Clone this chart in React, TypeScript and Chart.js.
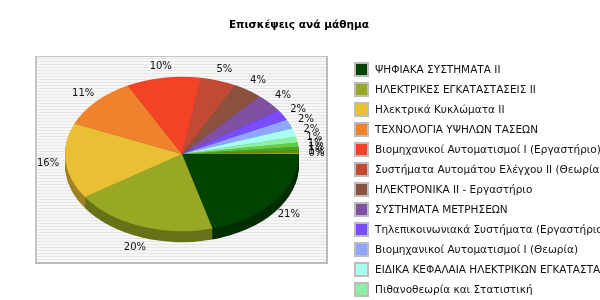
import React, { useEffect, useRef } from "react";
import { Chart, registerables } from "chart.js";

Chart.register(...registerables);

const chartTitle = "Επισκέψεις ανά μάθημα";

const courses = [
  "ΨΗΦΙΑΚΑ ΣΥΣΤΗΜΑΤΑ II",
  "ΗΛΕΚΤΡΙΚΕΣ ΕΓΚΑΤΑΣΤΑΣΕΙΣ II",
  "Ηλεκτρικά Κυκλώματα II",
  "ΤΕΧΝΟΛΟΓΙΑ ΥΨΗΛΩΝ ΤΑΣΕΩΝ",
  "Βιομηχανικοί Αυτοματισμοί I (Εργαστήριο)",
  "Συστήματα Αυτομάτου Ελέγχου II (Θεωρία)",
  "ΗΛΕΚΤΡΟΝΙΚΑ II - Εργαστήριο",
  "ΣΥΣΤΗΜΑΤΑ ΜΕΤΡΗΣΕΩΝ",
  "Τηλεπικοινωνιακά Συστήματα (Εργαστήριο)",
  "Βιομηχανικοί Αυτοματισμοί I (Θεωρία)",
  "ΕΙΔΙΚΑ ΚΕΦΑΛΑΙΑ ΗΛΕΚΤΡΙΚΩΝ ΕΓΚΑΤΑΣΤΑΣΕΩΝ",
  "Πιθανοθεωρία και Στατιστική",
  "Ηλεκτρικές Μηχανές II",
  "ΗΛΕΚΤΡΟΝΙΚΑ II - Θεωρία",
  "Μικροϋπολογιστές",
  "Ψηφιακή Επεξεργασία Σήματος",
];

const visits = [210, 200, 160, 110, 104, 50, 40, 40, 22, 20, 18, 12, 9, 7, 6, 2];

const sliceColors = [
  "#004400",
  "#99a824",
  "#e9bf34",
  "#f0822d",
  "#f44226",
  "#c04a34",
  "#8a523e",
  "#8051a3",
  "#7a4cff",
  "#8fa6ff",
  "#a7fff0",
  "#8cf0a0",
  "#66cc44",
  "#44aa22",
  "#6a8a10",
  "#aaaa22",
];

const TILT = 0.66;
const DEPTH = 11;

function darken(hex: string, f = 0.68) {
  const n = parseInt(hex.slice(1), 16);
  const r = Math.round(((n >> 16) & 255) * f);
  const g = Math.round(((n >> 8) & 255) * f);
  const b = Math.round((n & 255) * f);
  return `rgb(${r},${g},${b})`;
}

const pie3d = {
  id: "pie3d",
  beforeDraw(chart: any) {
    const ctx = chart.ctx;
    ctx.save();
    ctx.fillStyle = "#ffffff";
    ctx.fillRect(0, 0, chart.width, chart.height);
    const x0 = 35, y0 = 56, x1 = 328, y1 = 264;
    ctx.fillStyle = "#f7f7f7";
    ctx.fillRect(x0, y0, x1 - x0, y1 - y0);
    ctx.fillStyle = "#e6e6e6";
    for (let y = y0 + 2; y < y1; y += 3) {
      ctx.fillRect(x0, y, x1 - x0, 1);
    }
    ctx.fillStyle = "#c4c4c4";
    ctx.fillRect(x0, y0, x1 - x0, 1);
    ctx.fillRect(x0, y0, 2, y1 - y0);
    ctx.fillStyle = "#bcbcbc";
    ctx.fillRect(x1 - 2, y0, 2, y1 - y0);
    ctx.fillRect(x0, y1 - 2, x1 - x0, 2);
    ctx.restore();
  },
  beforeDatasetsDraw(chart: any) {
    const ctx = chart.ctx;
    const meta = chart.getDatasetMeta(0);
    const first = meta.data[0];
    const cx = first.x;
    const cy = first.y;
    ctx.save();
    ctx.translate(cx, cy);
    ctx.scale(1, TILT);
    ctx.translate(-cx, -cy);
    for (let d = DEPTH; d >= 1; d--) {
      meta.data.forEach((a: any, i: number) => {
        const p = a.getProps(["startAngle", "endAngle", "outerRadius"], true);
        const oy = cy + d / TILT;
        ctx.beginPath();
        ctx.moveTo(cx, oy);
        ctx.arc(cx, oy, p.outerRadius, p.startAngle, p.endAngle);
        ctx.closePath();
        ctx.fillStyle = darken(sliceColors[i]);
        ctx.fill();
      });
    }
  },
  afterDatasetsDraw(chart: any) {
    const ctx = chart.ctx;
    ctx.restore();
    const meta = chart.getDatasetMeta(0);
    const data: number[] = chart.data.datasets[0].data;
    const total = data.reduce((s, v) => s + v, 0);
    ctx.save();
    ctx.font = "10px 'DejaVu Sans'";
    ctx.fillStyle = "#111";
    ctx.textAlign = "center";
    ctx.textBaseline = "middle";
    meta.data.forEach((a: any, i: number) => {
      const p = a.getProps(["x", "y", "startAngle", "endAngle", "outerRadius"], true);
      const mid = (p.startAngle + p.endAngle) / 2;
      const R = p.outerRadius * 1.15;
      const s = Math.sin(mid);
      const lx = p.x + Math.cos(mid) * R;
      const ly = p.y + s * R * TILT + (s > 0 ? DEPTH * s : 0);
      ctx.fillText(Math.round((data[i] / total) * 100) + "%", lx, ly);
    });
    ctx.font = "bold 10.6px 'DejaVu Sans'";
    ctx.fillStyle = "#000";
    ctx.fillText(chartTitle, 299, 25);
    const labels: string[] = chart.data.labels;
    ctx.font = "10.5px 'DejaVu Sans'";
    ctx.textAlign = "left";
    labels.forEach((lab, i) => {
      const yc = 69 + i * 20;
      ctx.fillStyle = "#bdbdbd";
      ctx.fillRect(354, yc - 7, 15, 15);
      ctx.fillStyle = sliceColors[i];
      ctx.fillRect(356, yc - 5, 11, 11);
      ctx.fillStyle = "#111";
      ctx.fillText(lab, 375, yc + 1);
    });
    ctx.restore();
  },
};

export default function App() {
  const ref = useRef<HTMLCanvasElement | null>(null);
  useEffect(() => {
    if (!ref.current) return;
    const chart = new Chart(ref.current, {
      type: "pie",
      data: {
        labels: courses,
        datasets: [
          {
            data: visits,
            backgroundColor: sliceColors,
            borderWidth: 0,
          },
        ],
      },
      options: {
        responsive: false,
        animation: false,
        devicePixelRatio: 1,
        rotation: 90,
        layout: { padding: { left: 65, right: 301, top: 37, bottom: 29 } },
        plugins: {
          legend: { display: false },
          tooltip: { enabled: false },
          title: { display: false },
        },
      },
      plugins: [pie3d],
    });
    return () => chart.destroy();
  }, []);
  return (
    <div style={{ position: "fixed", left: 0, top: 0, width: 600, height: 300 }}>
      <canvas ref={ref} width={600} height={300} />
    </div>
  );
}
